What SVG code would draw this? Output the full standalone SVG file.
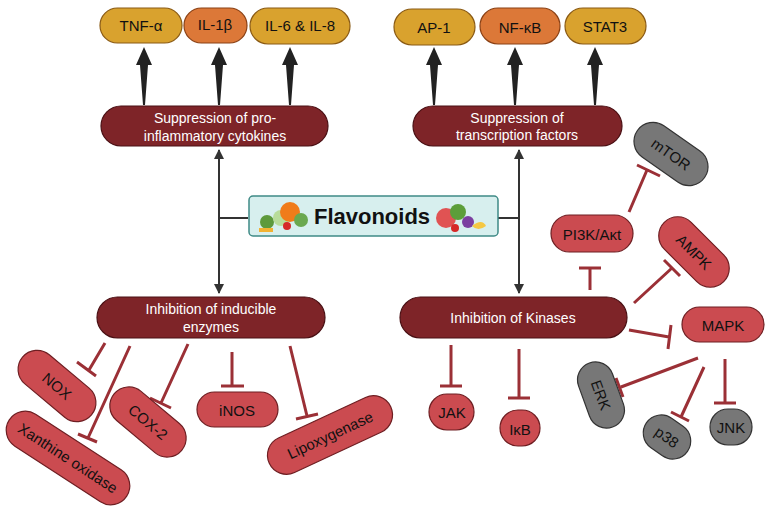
<svg xmlns="http://www.w3.org/2000/svg" width="769" height="507" viewBox="0 0 769 507">
<defs>
<style>
text{font-family:"Liberation Sans",Arial,sans-serif;text-anchor:middle;dominant-baseline:central}
.gold{fill:#d9a22e;stroke:#8a5a14;stroke-width:1.2}
.orng{fill:#dc7838;stroke:#8a4014;stroke-width:1.2}
.dark{fill:#7e2428;stroke:#4a1014;stroke-width:1.2}
.red{fill:#cb4b50;stroke:#6e1e22;stroke-width:1.2}
.gray{fill:#777;stroke:#333;stroke-width:1.2}
.t{font-size:15px;fill:#111}
.w{font-size:14px;fill:#fff}
.inh{stroke:#9b3036;stroke-width:3;fill:none}
.ln{stroke:#333;stroke-width:2;fill:none}
.big{fill:#222}
</style>
<marker id="ah" viewBox="0 0 10 10" refX="9" refY="5" markerWidth="5" markerHeight="5" orient="auto"><path d="M0,0L10,5L0,10z" fill="#333"/></marker>
<polygon id="ba" points="-1,0 1,0 4,-40 8,-40 0,-58 -8,-40 -4,-40"/>
</defs>
<rect width="769" height="507" fill="#fff"/>

<g id="connectors">
<path class="ln" d="M219,290V218H248M219,218V150" marker-end="url(#ah)"/>
<path class="ln" d="M219,218V293" marker-end="url(#ah)"/>
<path class="ln" d="M498,218H519V150" marker-end="url(#ah)"/>
<path class="ln" d="M519,218V293" marker-end="url(#ah)"/>
<g class="big">
<use href="#ba" x="144" y="105"/><use href="#ba" x="219" y="105"/><use href="#ba" x="290" y="105"/>
<use href="#ba" x="434" y="105"/><use href="#ba" x="515" y="105"/><use href="#ba" x="595" y="105"/>
</g>
<g class="inh">
<path d="M105,343L89,370M77,362L96,376"/>
<path d="M130,346L88,438M78,434L97,442"/>
<path d="M188,344L161,403M150,398L171,408"/>
<path d="M232,352V386M221,386H244"/>
<path d="M290,346L307,416M296,419L318,414"/>
<path d="M451,345V386M440,386H462"/>
<path d="M519,349V398M508,398H530"/>
<path d="M590,290V268M579,268H601"/>
<path d="M629,212L647,170M637,165L660,176"/>
<path d="M634,303L672,268M664,260L680,276"/>
<path d="M629,330L669,337M671,325L668,349"/>
<path d="M698,358L621,387M616,378L623,397"/>
<path d="M704,367L681,417M671,412L689,421"/>
<path d="M725,359V403M714,403H736"/>
</g>
</g>

<g id="tnf"><rect class="gold" x="100" y="8" width="82" height="35" rx="17.5"/><text class="t" x="141" y="25">TNF-α</text></g>
<g id="il1"><rect class="orng" x="184" y="8" width="63" height="35" rx="17.5"/><text class="t" x="215" y="24">IL-1β</text></g>
<g id="il6"><rect class="gold" x="250" y="8" width="100" height="36" rx="18"/><text class="t" x="300" y="25">IL-6 &amp; IL-8</text></g>
<g id="ap1"><rect class="gold" x="394" y="9" width="81" height="36" rx="18"/><text class="t" x="434" y="27">AP-1</text></g>
<g id="nfkb"><rect class="orng" x="480" y="8" width="80" height="36" rx="18"/><text class="t" x="520" y="27">NF-κB</text></g>
<g id="stat3"><rect class="gold" x="565" y="8" width="81" height="36" rx="18"/><text class="t" x="605" y="26">STAT3</text></g>

<g id="supp-cyt"><rect class="dark" x="101" y="106" width="227" height="40" rx="20"/><text class="w" x="215" y="118">Suppression of pro-</text><text class="w" x="215" y="136">inflammatory cytokines</text></g>
<g id="supp-tf"><rect class="dark" x="413" y="106" width="209" height="40" rx="20"/><text class="w" x="517" y="118">Suppression of</text><text class="w" x="517" y="135">transcription factors</text></g>

<g id="flavonoids">
<rect x="249" y="196" width="249" height="40" rx="4" fill="#d7efee" stroke="#3f8a86" stroke-width="1.5"/>
<g>
<circle cx="267" cy="222" r="7" fill="#5d9a3c"/><circle cx="281" cy="218" r="8" fill="#b8dc9a"/><circle cx="290" cy="212" r="10" fill="#f07c1a"/><circle cx="287" cy="226" r="4" fill="#d62828"/><circle cx="301" cy="220" r="7" fill="#6aa84f"/><rect x="259" y="228" width="14" height="4" fill="#f2b233"/>
<circle cx="446" cy="218" r="10" fill="#e05353"/><circle cx="458" cy="212" r="8" fill="#5c9e3a"/><circle cx="468" cy="222" r="6" fill="#7b3fa0"/><circle cx="455" cy="228" r="4" fill="#d62828"/><path d="M472,226Q482,218 486,226Q478,232 472,226z" fill="#f5c842"/>
</g>
<text x="372" y="216" font-size="22" font-weight="bold" fill="#111">Flavonoids</text>
</g>

<g id="inh-enz"><rect class="dark" x="97" y="297" width="228" height="41" rx="20.5"/><text class="w" x="211" y="309">Inhibition of inducible</text><text class="w" x="211" y="327">enzymes</text></g>
<g id="inh-kin"><rect class="dark" x="400" y="297" width="227" height="41" rx="20.5"/><text class="w" x="513" y="318">Inhibition of Kinases</text></g>

<g id="nox" transform="translate(57,386) rotate(40)"><rect class="red" x="-45" y="-19" width="90" height="38" rx="19"/><text class="t" y="0">NOX</text></g>
<g id="xo" transform="translate(68,458) rotate(33)"><rect class="red" x="-70" y="-19" width="140" height="38" rx="19"/><text class="t" y="0">Xanthine oxidase</text></g>
<g id="cox2" transform="translate(148,422) rotate(40)"><rect class="red" x="-44" y="-19" width="88" height="38" rx="19"/><text class="t" y="0">COX-2</text></g>
<g id="inos"><rect class="red" x="197" y="392" width="81" height="35" rx="17.5"/><text class="t" x="237" y="410">iNOS</text></g>
<g id="lipo" transform="translate(330,435) rotate(-25)"><rect class="red" x="-67" y="-19" width="134" height="38" rx="19"/><text class="t" y="0">Lipoxygenase</text></g>

<g id="jak"><rect class="red" x="429" y="394" width="45" height="36" rx="18"/><text class="t" x="452" y="412">JAK</text></g>
<g id="ikb"><rect class="red" x="500" y="410" width="40" height="36" rx="18"/><text class="t" x="520" y="429">IκB</text></g>
<g id="pi3k"><rect class="red" x="551" y="215" width="82" height="37" rx="18.5"/><text class="t" x="592" y="234">PI3K/Aκt</text></g>
<g id="mtor" transform="translate(671,154) rotate(35)"><rect class="gray" x="-41" y="-19" width="82" height="38" rx="19"/><text class="t" y="0">mTOR</text></g>
<g id="ampk" transform="translate(694,252) rotate(45)"><rect class="red" x="-42" y="-19" width="84" height="38" rx="19"/><text class="t" y="0">AMPK</text></g>
<g id="mapk"><rect class="red" x="682" y="307" width="82" height="35" rx="17.5"/><text class="t" x="723" y="325">MAPK</text></g>
<g id="erk" transform="translate(601,395) rotate(70)"><rect class="gray" x="-34" y="-18" width="68" height="36" rx="18"/><text class="t" y="0">ERK</text></g>
<g id="p38" transform="translate(667,437) rotate(35)"><rect class="gray" x="-25" y="-18" width="50" height="36" rx="18"/><text class="t" y="0">p38</text></g>
<g id="jnk"><rect class="gray" x="710" y="409" width="42" height="36" rx="18"/><text class="t" x="731" y="427">JNK</text></g>
</svg>
